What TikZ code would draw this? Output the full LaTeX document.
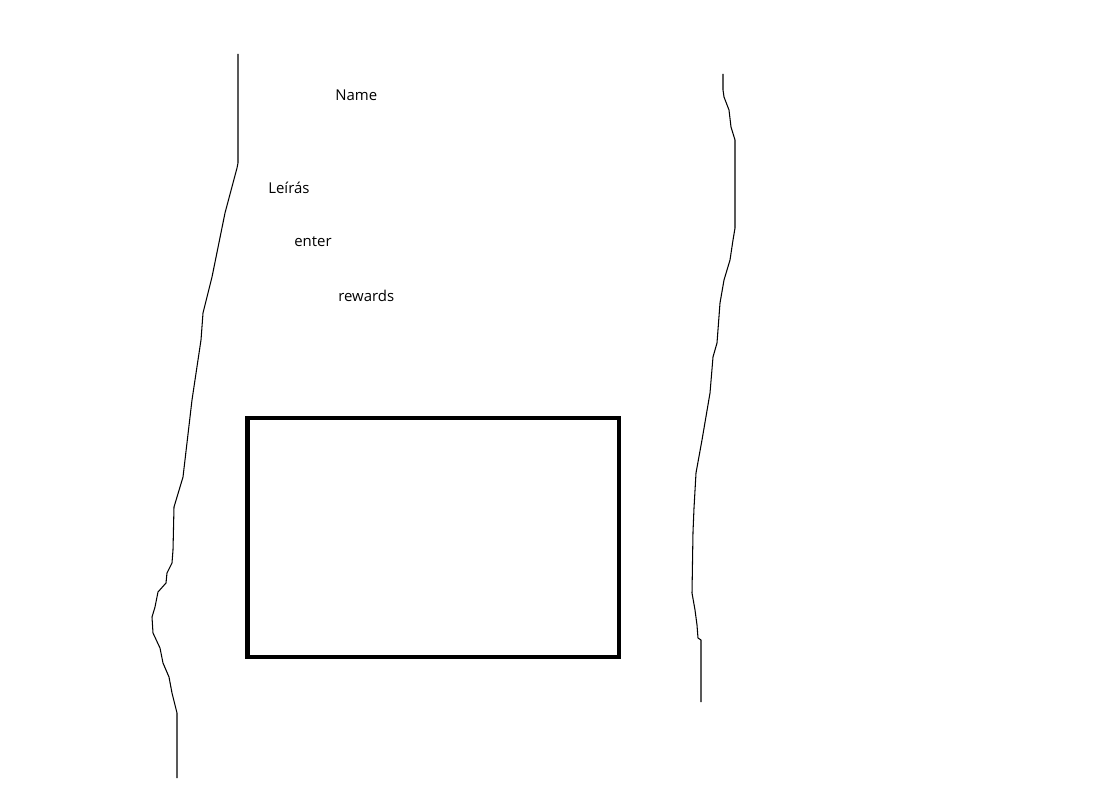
\documentclass[tikz,border=0pt]{standalone}
\usepackage{fontspec}
\setmainfont{Open Sans}
\usepackage{tikz}
\usetikzlibrary{positioning,calc}
\tikzset{lbl/.style={anchor=base west,inner sep=0pt,font=\fontsize{8.5}{10}\selectfont},
         edge/.style={line width=0.6pt,line join=round},
         frame/.style={line width=2.6pt}}

\begin{document}
\begin{tikzpicture}[x=0.02cm,y=-0.02cm]
 	   		\useasboundingbox (0,0) rectangle (1112,810);
 	   		% left border
 	   		\draw[edge] (238,54)--(238,163)--(237,168)--(225,213)--(212,277)--(203,313)--(201,340)
 	   		     --(192,400)--(183,477)--(174,507)--(173,550)--(172,563)--(167,573)--(166,583)
 	   		     --(158,592)--(155,607)--(152,617)--(153,633)--(160,648)--(163,663)--(169,677)
 	   		     --(172,693)--(177,713)--(177,778);
 	   		% right border
 	   		\draw[edge] (723,74)--(723,90)--(724,97)--(729,110)--(731,127)--(735,140)--(735,228)
 	   		     --(733,240)--(730,260)--(724,280)--(720,303)--(717,343)--(713,357)--(710,393)
 	   		     --(702,440)--(696,473)--(694,508)--(693,532)--(692,593)--(695,610)--(697,625)
 	   		     --(698,638)--(701,640)--(701,702);
 	   		\node[lbl] (name) at (335,101) {Name};
 	   		\node[lbl] (leiras) at (268,194) {Leírás};
 	   		\node[lbl] (enter) at (294,247) {enter};
 	   		\node[lbl] (rewards) at (338,302) {rewards};
 	   		\draw[frame] (247.5,418) rectangle (619,657);
\end{tikzpicture}
\end{document}
